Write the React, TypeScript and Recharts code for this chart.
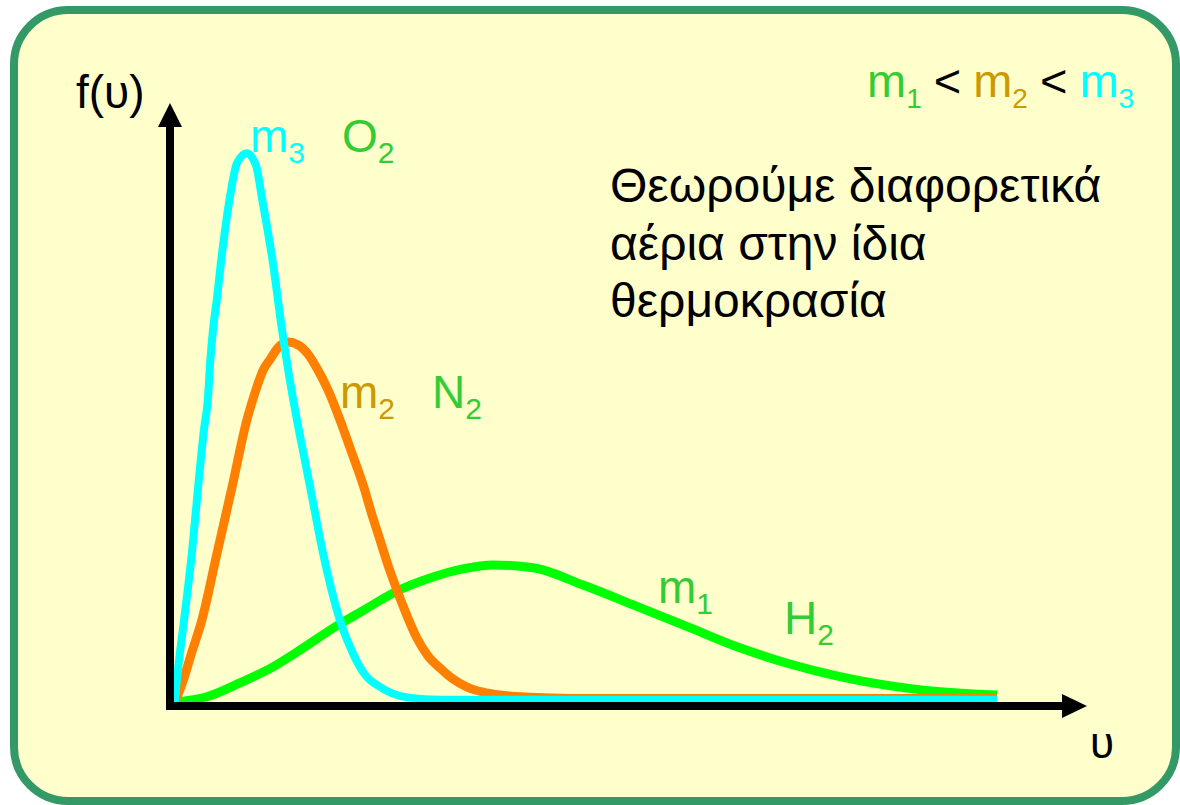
import React from 'react';
import { LineChart, Line, XAxis, YAxis, ReferenceDot } from 'recharts';

// speed axis (arbitrary units) and distribution values
const xTicks = [0, 1000, 2000];
const yTicks = [0, 0.5, 1];
const xMax = 2162;
const yMax = 1.009;

// m3 (O2) – cyan
const m3Speed = [12, 15, 34, 53, 68, 82, 92, 97, 104, 114, 123, 133, 145, 162, 186, 208, 222, 249, 271, 297, 307, 339, 370, 411, 442, 472, 508, 573, 653, 2000];
const m3Density = [0.007, 0.033, 0.149, 0.266, 0.38, 0.479, 0.536, 0.595, 0.653, 0.71, 0.769, 0.826, 0.884, 0.943, 0.96, 0.939, 0.884, 0.769, 0.653, 0.536, 0.497, 0.38, 0.266, 0.149, 0.092, 0.054, 0.033, 0.015, 0.011, 0.011];

// m2 (N2) – orange
const m2Speed = [12, 29, 53, 77, 114, 150, 186, 206, 225, 242, 261, 285, 310, 334, 358, 382, 411, 440, 467, 488, 508, 527, 549, 573, 597, 624, 653, 684, 718, 757, 798, 871, 967, 2000];
const m2Density = [0.007, 0.038, 0.094, 0.149, 0.266, 0.38, 0.497, 0.545, 0.583, 0.602, 0.622, 0.632, 0.627, 0.611, 0.583, 0.549, 0.497, 0.439, 0.384, 0.333, 0.288, 0.245, 0.201, 0.157, 0.118, 0.087, 0.066, 0.047, 0.033, 0.024, 0.019, 0.015, 0.013, 0.013];

// m1 (H2) – green
const m1Speed = [12, 89, 169, 249, 314, 394, 472, 539, 636, 708, 781, 878, 999, 1129, 1257, 1378, 1499, 1620, 1782, 1942, 2000];
const m1Density = [0.007, 0.016, 0.04, 0.068, 0.097, 0.135, 0.168, 0.196, 0.224, 0.238, 0.245, 0.24, 0.21, 0.173, 0.136, 0.101, 0.073, 0.051, 0.031, 0.021, 0.019];

const build = (us: number[], fs: number[]) => us.map((u, i) => ({ u, f: fs[i] }));
const m3Data = build(m3Speed, m3Density);
const m2Data = build(m2Speed, m2Density);
const m1Data = build(m1Speed, m1Density);

const FONT = '"Liberation Sans", Arial, sans-serif';
const LABEL_GREEN = '#33CC33';
const GOLD = '#CC9900';
const CYAN = '#00FFFF';

const upArrow = (p: any) => (
  <polygon points={`${p.cx - 12},${p.cy + 2} ${p.cx + 12},${p.cy + 2} ${p.cx},${p.cy - 22}`} fill="#000" />
);
const rightArrow = (p: any) => (
  <polygon points={`${p.cx - 2},${p.cy - 12} ${p.cx - 2},${p.cy + 12} ${p.cx + 23},${p.cy}`} fill="#000" />
);

export default function App() {
  return (
    <div style={{ position: 'absolute', left: 0, top: 0, width: 1180, height: 805, overflow: 'hidden', fontFamily: FONT }}>
      <div
        style={{
          position: 'absolute',
          left: 10,
          top: 6,
          width: 1170,
          height: 799,
          boxSizing: 'border-box',
          border: '8px solid #339966',
          borderRadius: 58,
          background: '#FFFFCC',
        }}
      />
      <div style={{ position: 'absolute', left: 0, top: 0 }}>
        <LineChart width={1180} height={805} margin={{ top: 125, right: 116, bottom: 98, left: 169 }}>
          <XAxis
            type="number"
            dataKey="u"
            domain={[0, xMax]}
            ticks={xTicks}
            tick={false}
            height={1}
            allowDataOverflow
            axisLine={{ stroke: '#000', strokeWidth: 8, strokeLinecap: 'square' }}
            tickLine={{ stroke: '#000', strokeWidth: 1.5 }}
            tickSize={7}
          />
          <YAxis
            type="number"
            domain={[0, yMax]}
            ticks={yTicks}
            tick={false}
            width={1}
            allowDataOverflow
            axisLine={{ stroke: '#000', strokeWidth: 8, strokeLinecap: 'square' }}
            tickLine={{ stroke: '#000', strokeWidth: 1.5 }}
            tickSize={13}
          />
          <Line data={m1Data} dataKey="f" type="monotone" stroke="#00FF00" strokeWidth={9} dot={false} activeDot={false} isAnimationActive={false} />
          <Line data={m2Data} dataKey="f" type="monotone" stroke="#FF8000" strokeWidth={9} dot={false} activeDot={false} isAnimationActive={false} />
          <Line data={m3Data} dataKey="f" type="monotone" stroke="#00FFFF" strokeWidth={8} dot={false} activeDot={false} isAnimationActive={false} />
          <ReferenceDot x={0} y={yMax} ifOverflow="visible" shape={upArrow} />
          <ReferenceDot x={xMax} y={0} ifOverflow="visible" shape={rightArrow} />
        </LineChart>
      </div>
      <svg width={1180} height={805} style={{ position: 'absolute', left: 0, top: 0, pointerEvents: 'none' }} fontFamily={FONT}>
        <text x={76} y={108} fontSize={46} fill="#000">f(υ)</text>
        <text x={1090} y={758} fontSize={44} fill="#000">υ</text>

        <text x={867} y={97} fontSize={47}>
          <tspan fill={LABEL_GREEN}>m</tspan>
          <tspan fill={LABEL_GREEN} fontSize={28} dy={11}>1</tspan>
          <tspan fill="#000" dy={-11} dx={12}>&lt;</tspan>
          <tspan fill={GOLD} dx={12}>m</tspan>
          <tspan fill={GOLD} fontSize={28} dy={11}>2</tspan>
          <tspan fill="#000" dy={-11} dx={12}>&lt;</tspan>
          <tspan fill={CYAN} dx={12}>m</tspan>
          <tspan fill={CYAN} fontSize={28} dy={11}>3</tspan>
        </text>

        <text x={610} y={202} fontSize={48} fill="#000">Θεωρούμε διαφορετικά</text>
        <text x={610} y={260} fontSize={48} fill="#000">αέρια στην ίδια</text>
        <text x={610} y={317} fontSize={48} fill="#000">θερμοκρασία</text>

        <text x={250} y={152} fontSize={46} fill={CYAN}>
          <tspan>m</tspan>
          <tspan fontSize={30} dy={11}>3</tspan>
        </text>
        <text x={342} y={152} fontSize={46} fill={LABEL_GREEN}>
          <tspan>O</tspan>
          <tspan fontSize={30} dy={11}>2</tspan>
        </text>
        <text x={340} y={408} fontSize={46} fill={GOLD}>
          <tspan>m</tspan>
          <tspan fontSize={30} dy={11}>2</tspan>
        </text>
        <text x={432} y={408} fontSize={46} fill={LABEL_GREEN}>
          <tspan>N</tspan>
          <tspan fontSize={30} dy={11}>2</tspan>
        </text>
        <text x={658} y={603} fontSize={46} fill={LABEL_GREEN}>
          <tspan>m</tspan>
          <tspan fontSize={30} dy={11}>1</tspan>
        </text>
        <text x={784} y={634} fontSize={46} fill={LABEL_GREEN}>
          <tspan>H</tspan>
          <tspan fontSize={30} dy={11}>2</tspan>
        </text>
      </svg>
    </div>
  );
}
